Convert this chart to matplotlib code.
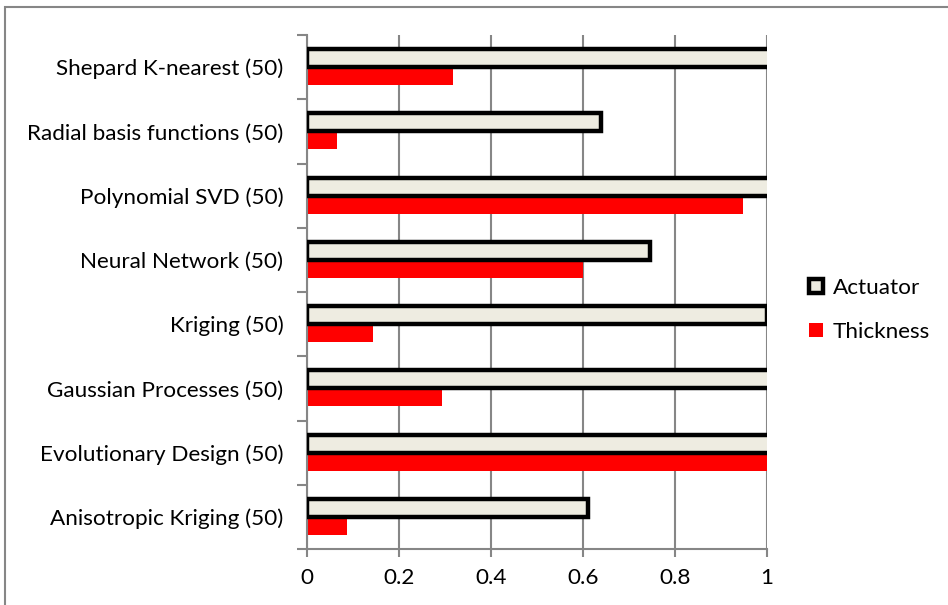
import numpy as np
import matplotlib
matplotlib.use("Agg")
import matplotlib.pyplot as plt
from matplotlib.patches import Patch, Rectangle

# categories listed bottom to top, as they appear on the y axis
methods = ['Anisotropic Kriging (50)', 'Evolutionary Design (50)',
           'Gaussian Processes (50)', 'Kriging (50)', 'Neural Network (50)',
           'Polynomial SVD (50)', 'Radial basis functions (50)',
           'Shepard K-nearest (50)']
# values past 1 run off the axis and get clipped
actuator = [0.61, 1.2, 1.2, 1.0, 0.745, 1.2, 0.64, 1.2]
thickness = [0.086, 1.2, 0.294, 0.143, 0.60, 0.947, 0.065, 0.318]
xticks = [0, 0.2, 0.4, 0.6, 0.8, 1]
xticklabels = ['0', '0.2', '0.4', '0.6', '0.8', '1']

plt.rcParams['font.family'] = ['Lato', 'DejaVu Sans']
grey = '#868686'
fill = '#EEECE1'
fs = 16.2

fig = plt.figure(figsize=(9.48, 6.05), dpi=100)
ax = fig.add_axes([307 / 948, 1 - 549 / 605, 460 / 948, 514 / 605])

y = np.arange(len(methods))
h = 0.28
ax.barh(y - h / 2, thickness, height=h, color='#FF0000', edgecolor='none',
        zorder=2, label='Thickness')
ax.barh(y + h / 2, actuator, height=h, color=fill, edgecolor='black',
        linewidth=3.2, zorder=3, label='Actuator')

ax.set_xlim(0, 1)
ax.set_ylim(-0.5, len(methods) - 0.5)
ax.set_xticks(xticks)
ax.set_xticklabels(xticklabels)
ax.set_yticks(y)
ax.set_yticklabels(methods)
ax.set_yticks(np.arange(len(methods) + 1) - 0.5, minor=True)
ax.tick_params(axis='y', which='major', length=0, pad=17, labelsize=fs)
ax.tick_params(axis='y', which='minor', length=7, width=1.5, color=grey)
ax.tick_params(axis='x', length=6, width=1.5, color=grey, pad=8,
               labelsize=fs)
ax.xaxis.grid(True, color=grey, linewidth=1.5, zorder=0)
ax.set_axisbelow(True)
for s in ['top', 'right']:
    ax.spines[s].set_visible(False)
for s in ['left', 'bottom']:
    ax.spines[s].set_color(grey)
    ax.spines[s].set_linewidth(1.5)

handles = [Patch(facecolor=fill, edgecolor='black', linewidth=3.2),
           Patch(facecolor='#FF0000', edgecolor='none')]
fig.legend(handles, ['Actuator', 'Thickness'], loc='center left',
           bbox_to_anchor=(800 / 948, 1 - 310 / 605), frameon=False,
           fontsize=fs, handlelength=0.6, handleheight=0.6,
           handletextpad=0.45, labelspacing=1.05, borderaxespad=0)

# chart area border
fig.add_artist(Rectangle((5 / 948, -0.1), 1.2, 1.1 - 7 / 605,
                         transform=fig.transFigure, fill=False,
                         edgecolor=grey, linewidth=1.5))

fig.savefig('out.png', dpi=100)
